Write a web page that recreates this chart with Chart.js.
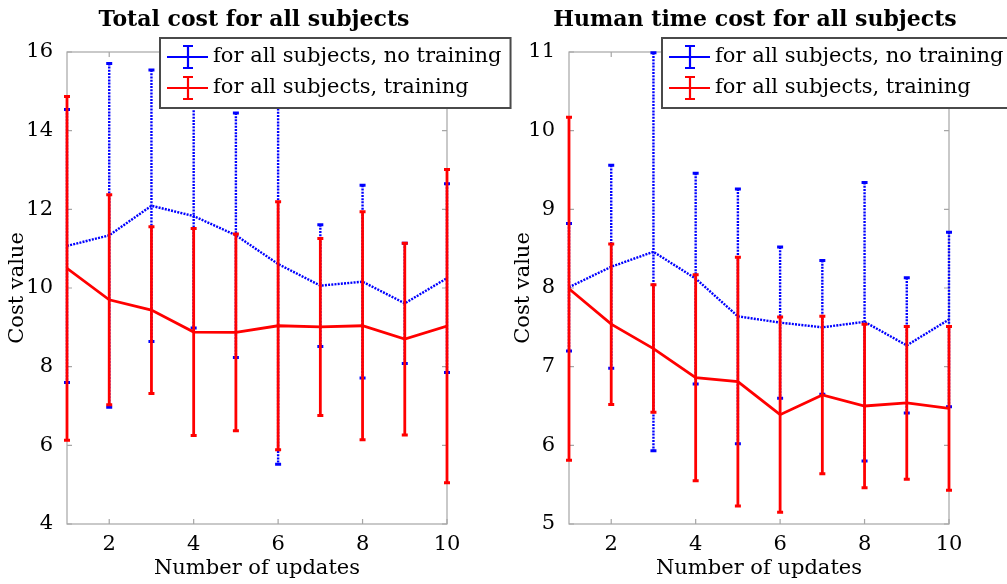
<!DOCTYPE html>
<html>
<head>
<meta charset="utf-8">
<script src="https://cdn.jsdelivr.net/npm/chart.js@4.4.1/dist/chart.umd.min.js"></script>
<style>
  html, body { margin: 0; padding: 0; background: #fff; }
  #wrap { position: relative; width: 1007px; height: 584px; }
  #wrap canvas { position: absolute; left: 0; top: 0; }
</style>
</head>
<body>
<div id="wrap">
  <canvas id="totalCost" width="1007" height="584"></canvas>
  <canvas id="humanCost" width="1007" height="584"></canvas>
</div>
<script>
// x values and tick positions shared by both panels
const updates = [1, 2, 3, 4, 5, 6, 7, 8, 9, 10];
const xTicks = [2, 4, 6, 8, 10];
const legendLabels = ['for all subjects, no training', 'for all subjects, training'];

// Total cost: mean and standard deviation per number of updates
const totalNoTrainMean = [11.07, 11.34, 12.09, 11.83, 11.34, 10.61, 10.06, 10.16, 9.61, 10.25];
const totalNoTrainStd  = [3.47, 4.37, 3.45, 2.85, 3.11, 5.09, 1.55, 2.45, 1.53, 2.40];
const totalTrainMean   = [10.50, 9.70, 9.44, 8.88, 8.87, 9.04, 9.01, 9.04, 8.70, 9.03];
const totalTrainStd    = [4.37, 2.67, 2.12, 2.63, 2.50, 3.15, 2.25, 2.90, 2.44, 3.98];
const totalYTicks = [4, 6, 8, 10, 12, 14, 16];

// Human time cost
const humanNoTrainMean = [8.01, 8.27, 8.46, 8.12, 7.64, 7.56, 7.50, 7.57, 7.27, 7.60];
const humanNoTrainStd  = [0.81, 1.29, 2.53, 1.34, 1.62, 0.96, 0.85, 1.77, 0.86, 1.11];
const humanTrainMean   = [7.99, 7.54, 7.23, 6.86, 6.81, 6.39, 6.64, 6.50, 6.54, 6.47];
const humanTrainStd    = [2.18, 1.02, 0.81, 1.31, 1.58, 1.24, 1.00, 1.04, 0.97, 1.04];
const humanYTicks = [5, 6, 7, 8, 9, 10, 11];

const BLUE = '#0000ff';
const RED = '#ff0000';
const FONT = 'DejaVu Serif';
const textFont = { family: FONT, size: 21 };

// frame, inner ticks, error bars, legend box and panel title
const errorBarFrame = {
  id: 'errorBarFrame',
  beforeDatasetsDraw(chart) {
    const { ctx, chartArea: a, scales } = chart;
    ctx.save();
    ctx.strokeStyle = '#a6a6a6';
    ctx.lineWidth = 1.2;
    ctx.strokeRect(a.left, a.top, a.right - a.left, a.bottom - a.top);
    const tl = 5;
    ctx.beginPath();
    scales.x.ticks.forEach(t => {
      const x = scales.x.getPixelForValue(t.value);
      ctx.moveTo(x, a.bottom); ctx.lineTo(x, a.bottom - tl);
      ctx.moveTo(x, a.top); ctx.lineTo(x, a.top + tl);
    });
    scales.y.ticks.forEach(t => {
      const y = scales.y.getPixelForValue(t.value);
      ctx.moveTo(a.left, y); ctx.lineTo(a.left + tl, y);
      ctx.moveTo(a.right, y); ctx.lineTo(a.right - tl, y);
    });
    ctx.stroke();
    ctx.restore();
  },
  afterDatasetDraw(chart, args) {
    const ds = chart.data.datasets[args.index];
    const yScale = chart.scales.y;
    const ctx = chart.ctx;
    const cap = 3;
    ctx.save();
    ctx.strokeStyle = ds.borderColor;
    args.meta.data.forEach((pt, i) => {
      const v = ds.data[i].y;
      const top = yScale.getPixelForValue(v + ds.errors[i]);
      const bot = yScale.getPixelForValue(v - ds.errors[i]);
      ctx.lineWidth = ds.borderWidth;
      ctx.setLineDash(ds.borderDash || []);
      ctx.beginPath();
      ctx.moveTo(pt.x, top);
      ctx.lineTo(pt.x, bot);
      ctx.stroke();
      ctx.setLineDash([]);
      ctx.lineWidth = 3;
      ctx.beginPath();
      ctx.moveTo(pt.x - cap, top); ctx.lineTo(pt.x + cap, top);
      ctx.moveTo(pt.x - cap, bot); ctx.lineTo(pt.x + cap, bot);
      ctx.stroke();
    });
    ctx.restore();
  },
  afterDraw(chart, args, opts) {
    const { ctx, chartArea: a } = chart;
    ctx.save();
    // title
    ctx.fillStyle = '#000';
    ctx.font = 'bold 22px "' + FONT + '"';
    ctx.textAlign = 'center';
    ctx.textBaseline = 'alphabetic';
    ctx.fillText(opts.title, (a.left + a.right) / 2 + opts.titleShift, 26);

    // legend
    ctx.font = '21px "' + FONT + '"';
    const rows = [chart.data.datasets[1], chart.data.datasets[0]];
    const textW = Math.max(...rows.map(d => ctx.measureText(d.label).width));
    const bx = a.left + 93, by = a.top - 14;
    const bw = 53 + textW + 9, bh = 70;
    ctx.fillStyle = '#fff';
    ctx.fillRect(bx, by, bw, bh);
    ctx.strokeStyle = '#4a4a4a';
    ctx.lineWidth = 2;
    ctx.strokeRect(bx, by, bw, bh);
    rows.forEach((d, r) => {
      const cy = by + 19 + r * 31;
      ctx.strokeStyle = d.borderColor;
      ctx.lineWidth = 2.2;
      ctx.beginPath();
      ctx.moveTo(bx + 7, cy); ctx.lineTo(bx + 48, cy);
      ctx.moveTo(bx + 28, cy - 11); ctx.lineTo(bx + 28, cy + 11);
      ctx.moveTo(bx + 23, cy - 11); ctx.lineTo(bx + 33, cy - 11);
      ctx.moveTo(bx + 23, cy + 11); ctx.lineTo(bx + 33, cy + 11);
      ctx.stroke();
      ctx.fillStyle = '#000';
      ctx.textAlign = 'left';
      ctx.textBaseline = 'middle';
      ctx.fillText(d.label, bx + 53, cy);
    });
    ctx.restore();
  }
};

function makePanel(canvasId, title, noTrainMean, noTrainStd, trainMean, trainStd, yTicks, padLeft, padRight, yTitlePad, titleShift) {
  return new Chart(document.getElementById(canvasId), {
    type: 'line',
    data: {
      datasets: [
        {
          label: legendLabels[1],
          data: updates.map((u, i) => ({ x: u, y: trainMean[i] })),
          errors: trainStd,
          borderColor: RED,
          borderWidth: 2.8,
          pointRadius: 0,
          order: 0
        },
        {
          label: legendLabels[0],
          data: updates.map((u, i) => ({ x: u, y: noTrainMean[i] })),
          errors: noTrainStd,
          borderColor: BLUE,
          borderWidth: 2.4,
          borderDash: [2, 1.2],
          pointRadius: 0,
          order: 1
        }
      ]
    },
    options: {
      responsive: false,
      animation: false,
      devicePixelRatio: 1,
      layout: { padding: { left: padLeft, right: padRight, top: 52, bottom: 0 } },
      plugins: {
        legend: { display: false },
        tooltip: { enabled: false },
        errorBarFrame: { title: title, titleShift: titleShift }
      },
      scales: {
        x: {
          type: 'linear',
          min: 1,
          max: 10,
          afterBuildTicks: s => { s.ticks = xTicks.map(v => ({ value: v })); },
          afterFit: s => { s.height = 60; },
          grid: { display: false },
          border: { display: false },
          ticks: { font: textFont, color: '#000', padding: 0, autoSkip: false, maxRotation: 0 },
          title: { display: true, text: 'Number of updates', font: textFont, color: '#000', padding: { top: 0, bottom: 3 } }
        },
        y: {
          type: 'linear',
          min: yTicks[0],
          max: yTicks[yTicks.length - 1],
          afterBuildTicks: s => { s.ticks = yTicks.map(v => ({ value: v })); },
          afterFit: s => { s.width = 67; },
          grid: { display: false },
          border: { display: false },
          ticks: { font: textFont, color: '#000', padding: 6, autoSkip: false },
          title: { display: true, text: 'Cost value', font: textFont, color: '#000', padding: { top: yTitlePad, bottom: 0 } }
        }
      }
    },
    plugins: [errorBarFrame]
  });
}

makePanel('totalCost', 'Total cost for all subjects',
  totalNoTrainMean, totalNoTrainStd, totalTrainMean, totalTrainStd, totalYTicks, 0, 560, 5, -3);
makePanel('humanCost', 'Human time cost for all subjects',
  humanNoTrainMean, humanNoTrainStd, humanTrainMean, humanTrainStd, humanYTicks, 502, 58, 9, -4);
</script>
</body>
</html>
